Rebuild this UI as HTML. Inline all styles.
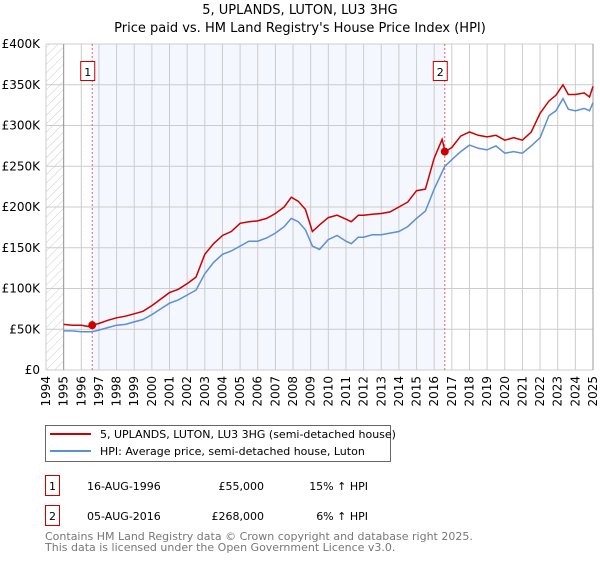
<!DOCTYPE html>
<html><head><meta charset="utf-8"><style>
body{margin:0;background:#fff;width:600px;height:560px;overflow:hidden;font-family:"DejaVu Sans","Liberation Sans",sans-serif}
svg text{font-family:"DejaVu Sans","Liberation Sans",sans-serif}
</style></head><body>
<svg id="chart" width="600" height="560" xmlns="http://www.w3.org/2000/svg">
<defs><pattern id="hatch" width="6" height="6" patternUnits="userSpaceOnUse" patternTransform="rotate(45)"><line x1="0" y1="0" x2="0" y2="6" stroke="#ccc" stroke-width="1"/></pattern></defs>
<text x="300" y="14" text-anchor="middle" font-size="13">5, UPLANDS, LUTON, LU3 3HG</text>
<text x="300" y="32" text-anchor="middle" font-size="13">Price paid vs. HM Land Registry's House Price Index (HPI)</text>
<g id="plot"></g>
<g>
<rect x="45.5" y="425.5" width="345" height="36" fill="#fff" stroke="#666"/>
<line x1="50" y1="434" x2="91" y2="434" stroke="#cc0000" stroke-width="2"/>
<text x="100" y="438" font-size="11">5, UPLANDS, LUTON, LU3 3HG (semi-detached house)</text>
<line x1="50" y1="451" x2="91" y2="451" stroke="#5b8fd6" stroke-width="2"/>
<text x="100" y="455" font-size="11">HPI: Average price, semi-detached house, Luton</text>
</g>
<g font-size="11">
<rect x="45.5" y="475.5" width="14" height="20" fill="#fff" stroke="#cc0000"/>
<text x="52.5" y="490" text-anchor="middle">1</text>
<text x="87" y="490">16-AUG-1996</text>
<text x="264" y="490" text-anchor="end">£55,000</text>
<text x="368" y="490" text-anchor="end">15% ↑ HPI</text>
</g>
<g font-size="11">
<rect x="45.5" y="505.5" width="14" height="20" fill="#fff" stroke="#cc0000"/>
<text x="52.5" y="520" text-anchor="middle">2</text>
<text x="87" y="520">05-AUG-2016</text>
<text x="264" y="520" text-anchor="end">£268,000</text>
<text x="368" y="520" text-anchor="end">6% ↑ HPI</text>
</g>
<text x="45" y="540" font-size="11" fill="#777">Contains HM Land Registry data © Crown copyright and database right 2025.</text>
<text x="45" y="551" font-size="11" fill="#777">This data is licensed under the Open Government Licence v3.0.</text>
</svg>
<script>
const hpiYears=[1995,1995.5,1996,1996.6,1997,1997.5,1998,1998.5,1999,1999.5,2000,2000.5,2001,2001.5,2002,2002.5,2003,2003.5,2004,2004.5,2005,2005.5,2006,2006.5,2007,2007.5,2007.9,2008.3,2008.7,2009.1,2009.5,2010,2010.5,2011,2011.3,2011.7,2012,2012.5,2013,2013.5,2014,2014.5,2015,2015.5,2016,2016.6,2017,2017.5,2018,2018.5,2019,2019.5,2020,2020.5,2021,2021.5,2022,2022.5,2022.9,2023.3,2023.6,2024,2024.5,2024.8,2025];
const hpiValues=[48,48,47,47,49,52,55,56,59,62,68,75,82,86,92,98,118,132,142,146,152,158,158,162,168,176,186,182,172,152,148,160,165,158,155,163,163,166,166,168,170,176,186,195,222,250,258,268,276,272,270,275,266,268,266,275,285,312,318,333,320,318,321,318,328];
const salesYears=[1995,1995.5,1996,1996.5,1996.62,1997,1997.5,1998,1998.5,1999,1999.5,2000,2000.5,2001,2001.5,2002,2002.5,2003,2003.5,2004,2004.5,2005,2005.5,2006,2006.5,2007,2007.5,2007.9,2008.3,2008.7,2009.1,2009.5,2010,2010.5,2011,2011.3,2011.7,2012,2012.5,2013,2013.5,2014,2014.5,2015,2015.5,2016,2016.45,2016.62,2017,2017.5,2018,2018.5,2019,2019.5,2020,2020.5,2021,2021.5,2022,2022.5,2022.9,2023.3,2023.6,2024,2024.5,2024.8,2025];
const salesValues=[56,55,55,53,55,57,61,64,66,69,72,79,87,95,99,106,114,142,155,165,170,180,182,183,186,192,200,212,207,197,170,178,187,190,185,182,190,190,191,192,194,200,206,220,222,260,283,268,273,287,292,288,286,288,282,285,282,292,315,330,337,350,338,338,340,335,348];
const sales=[{n:'1',year:1996.62,value:55},{n:'2',year:2016.6,value:268}];
const yTicks=[0,50,100,150,200,250,300,350,400];
const yLabels=['£0','£50K','£100K','£150K','£200K','£250K','£300K','£350K','£400K'];
const xTicks=[1994,1995,1996,1997,1998,1999,2000,2001,2002,2003,2004,2005,2006,2007,2008,2009,2010,2011,2012,2013,2014,2015,2016,2017,2018,2019,2020,2021,2022,2023,2024,2025];
const L=46,R=593,T=44,B=370;
const xS=y=>L+(y-1994)/(2025-1994)*(R-L);
const yS=v=>B-v/400*(B-T);
const NS='http://www.w3.org/2000/svg';
const g=document.getElementById('plot');
function mk(t,a,p){const e=document.createElementNS(NS,t);for(const k in a)e.setAttribute(k,a[k]);(p||g).appendChild(e);return e;}
let e=mk('rect',{x:L,y:T,width:R-L,height:B-T,fill:'#fff'});


e=mk('rect',{x:xS(sales[0].year),y:T,width:xS(sales[1].year)-xS(sales[0].year),height:B-T,fill:'#f4f7fe'});


e=mk('rect',{x:L,y:T,width:xS(1995)-L,height:B-T,fill:'url(#hatch)'});


xTicks.forEach(y=>{const l=mk('line',{x1:xS(y),x2:xS(y),y1:T,y2:B,stroke:'#ccc','stroke-width':1});


const t=mk('text',{x:0,y:0,'font-size':12,'text-anchor':'end',transform:`translate(${xS(y)+4},${B+6}) rotate(-90)`});t.textContent=y;

});
yTicks.forEach((v,i)=>{const l=mk('line',{x1:L,x2:R,y1:yS(v),y2:yS(v),stroke:'#ccc','stroke-width':1});


const t=mk('text',{x:40,y:yS(v)+4,'font-size':12,'text-anchor':'end'});t.textContent=yLabels[i];

});
e=mk('line',{x1:xS(1995),x2:xS(1995),y1:T,y2:B,stroke:'#999'});


e=mk('line',{x1:R,x2:R,y1:T,y2:B,stroke:'#999'});


sales.forEach(s=>{const l=mk('line',{x1:xS(s.year),x2:xS(s.year),y1:T,y2:B,stroke:'#e06666','stroke-dasharray':'2,2'});


const r=mk('rect',{x:xS(s.year)-11.5,y:T+17.5,width:14,height:19,fill:'#fff',stroke:'#cc0000'});


const t=mk('text',{x:xS(s.year)-4.5,y:T+32,'font-size':11,'text-anchor':'middle'});t.textContent=s.n;

});
const pts=(xs,vs)=>xs.map((y,i)=>xS(y).toFixed(1)+','+yS(vs[i]).toFixed(1)).join(' ');
e=mk('polyline',{points:pts(hpiYears,hpiValues),fill:'none',stroke:'#5b8fd6','stroke-width':1.5});


e=mk('polyline',{points:pts(salesYears,salesValues),fill:'none',stroke:'#cc0000','stroke-width':1.5});


sales.forEach(s=>{const c=mk('circle',{cx:xS(s.year),cy:yS(s.value),r:4,fill:'#cc0000'});

});
</script>
</body></html>
